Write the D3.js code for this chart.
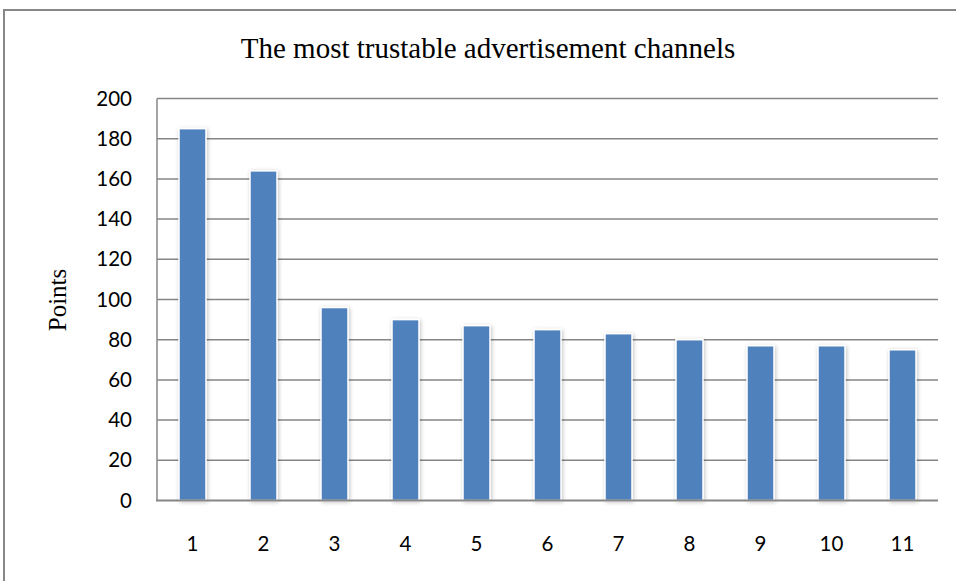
<!DOCTYPE html>
<html><head><meta charset="utf-8">
<script src="https://cdn.jsdelivr.net/npm/d3@7"></script>
<style>html,body{margin:0;padding:0;background:#fff;overflow:hidden}</style>
</head><body>
<svg id="chart" width="956" height="581"></svg>
<script>
const categories = ["1","2","3","4","5","6","7","8","9","10","11"];
const values = [185,164,96,90,87,85,83,80,77,77,75];
const yTicks = [0,20,40,60,80,100,120,140,160,180,200];
const titleText = "The most trustable advertisement channels";
const yLabel = "Points";

const svg = d3.select("#chart");
const W = 956, H = 581;
const m = {left:157, right:938, top:98.5, bottom:500.5};
const tickFont = "Lato, 'Open Sans', sans-serif";
const serif = "'Liberation Serif', 'Times New Roman', serif";

svg.append("rect").attr("x",4).attr("y",10).attr("width",W+10).attr("height",H+10)
  .attr("fill","#fff").attr("stroke","#878787").attr("stroke-width",2);

const defs = svg.append("defs");
const f = defs.append("filter").attr("id","sh").attr("x","-30%").attr("y","-10%").attr("width","160%").attr("height","120%");
f.append("feGaussianBlur").attr("in","SourceAlpha").attr("stdDeviation",2).attr("result","b");
f.append("feOffset").attr("in","b").attr("dx",1).attr("dy",1).attr("result","o");
f.append("feComponentTransfer").attr("in","o").attr("result","o2").append("feFuncA").attr("type","linear").attr("slope",0.25);
const mg = f.append("feMerge"); mg.append("feMergeNode").attr("in","o2"); mg.append("feMergeNode").attr("in","SourceGraphic");

const x = d3.scaleBand().domain(categories).range([m.left,m.right]).paddingInner(0.62).paddingOuter(0.31);
const y = d3.scaleLinear().domain([0,200]).range([m.bottom,m.top]);

// gridlines
svg.append("g").selectAll("line").data(yTicks.filter(d=>d>0)).join("line")
  .attr("x1",m.left).attr("x2",m.right).attr("y1",d=>y(d)).attr("y2",d=>y(d))
  .attr("stroke","#868686").attr("stroke-width",1.5);

// bars
svg.append("g").selectAll("rect").data(values).join("rect")
  .attr("x",(d,i)=>x(categories[i])).attr("width",x.bandwidth())
  .attr("y",d=>y(d)).attr("height",d=>y(0)-y(d))
  .attr("fill","#4F81BD").attr("stroke","#fff").attr("stroke-width",1.5)
  .attr("filter","url(#sh)");

// axes lines
svg.append("line").attr("x1",m.left).attr("x2",m.left).attr("y1",m.top).attr("y2",m.bottom)
  .attr("stroke","#868686").attr("stroke-width",1.5);
svg.append("line").attr("x1",m.left-1).attr("x2",m.right).attr("y1",m.bottom).attr("y2",m.bottom)
  .attr("stroke","#868686").attr("stroke-width",2);

// y tick labels
const yAxis = d3.axisLeft(y).tickValues(yTicks).tickSize(0).tickPadding(25);
const ga = svg.append("g").attr("transform",`translate(${m.left},0)`).call(yAxis);
ga.select(".domain").remove();
ga.selectAll("text").attr("font-family",tickFont).attr("font-size",20.5).attr("fill","#000");

// x tick labels
const xAxis = d3.axisBottom(x).tickSize(0);
const gx = svg.append("g").attr("transform",`translate(0,${m.bottom})`).call(xAxis);
gx.select(".domain").remove();
gx.selectAll("text").attr("font-family",tickFont).attr("font-size",20.5).attr("fill","#000")
  .attr("dy",null).attr("y",50.5);

svg.append("text").attr("x",488).attr("y",58).attr("text-anchor","middle")
  .attr("font-family",serif).attr("font-size",29).text(titleText);

svg.append("text").attr("transform","translate(66,300) rotate(-90)").attr("text-anchor","middle")
  .attr("font-family",serif).attr("font-size",25).text(yLabel);
</script>
</body></html>
